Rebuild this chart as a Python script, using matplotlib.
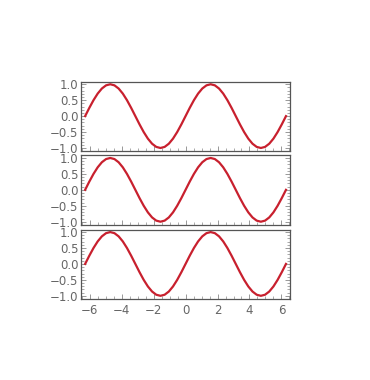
import matplotlib
matplotlib.use('Agg')
import matplotlib.pyplot as plt
from matplotlib.ticker import MultipleLocator

# curve values (one point every ~0.26 along x)
x_vals = [-6.2832, -6.0214, -5.7596, -5.4978, -5.2360, -4.9742, -4.7124, -4.4506,
          -4.1888, -3.9270, -3.6652, -3.4034, -3.1416, -2.8798, -2.6180, -2.3562,
          -2.0944, -1.8326, -1.5708, -1.3090, -1.0472, -0.7854, -0.5236, -0.2618,
          0.0, 0.2618, 0.5236, 0.7854, 1.0472, 1.3090, 1.5708, 1.8326,
          2.0944, 2.3562, 2.6180, 2.8798, 3.1416, 3.4034, 3.6652, 3.9270,
          4.1888, 4.4506, 4.7124, 4.9742, 5.2360, 5.4978, 5.7596, 6.0214, 6.2832]
y_vals = [0.0, 0.2588, 0.5, 0.7071, 0.8660, 0.9659, 1.0, 0.9659,
          0.8660, 0.7071, 0.5, 0.2588, 0.0, -0.2588, -0.5, -0.7071,
          -0.8660, -0.9659, -1.0, -0.9659, -0.8660, -0.7071, -0.5, -0.2588,
          0.0, 0.2588, 0.5, 0.7071, 0.8660, 0.9659, 1.0, 0.9659,
          0.8660, 0.7071, 0.5, 0.2588, 0.0, -0.2588, -0.5, -0.7071,
          -0.8660, -0.9659, -1.0, -0.9659, -0.8660, -0.7071, -0.5, -0.2588, 0.0]
x_ticks = [-6, -4, -2, 0, 2, 4, 6]
y_ticks = [-1.0, -0.5, 0.0, 0.5, 1.0]

fig = plt.figure(figsize=(3.7, 3.8), dpi=100)
left, width = 0.219, 0.565
bottoms = [0.603, 0.409, 0.214]
h = 0.182

for i, b in enumerate(bottoms):
    ax = fig.add_axes([left, b, width, h])
    ax.plot(x_vals, y_vals, color='#c8202e', lw=1.6)
    ax.set_xlim(-6.54, 6.54)
    ax.set_ylim(-1.09, 1.08)
    ax.set_xticks(x_ticks)
    ax.set_yticks(y_ticks)
    ax.set_yticklabels(['\u22121.0', '\u22120.5', '0.0', '0.5', '1.0'])
    ax.xaxis.set_minor_locator(MultipleLocator(0.5))
    ax.yaxis.set_minor_locator(MultipleLocator(0.1))
    ax.tick_params(which='both', direction='in', top=False, right=True,
                   colors='#888888', labelcolor='#666666', labelsize=8.5, pad=2)
    ax.tick_params(which='major', length=3.5, width=0.6)
    ax.tick_params(which='minor', length=2, width=0.5)
    ax.tick_params(axis='x', pad=4)
    for s in ax.spines.values():
        s.set_color('#555555')
        s.set_linewidth(0.9)
    if i < 2:
        ax.tick_params(labelbottom=False)
    else:
        ax.set_xticklabels(['\u22126', '\u22124', '\u22122', '0', '2', '4', '6'])

plt.savefig('out.png', dpi=100)
